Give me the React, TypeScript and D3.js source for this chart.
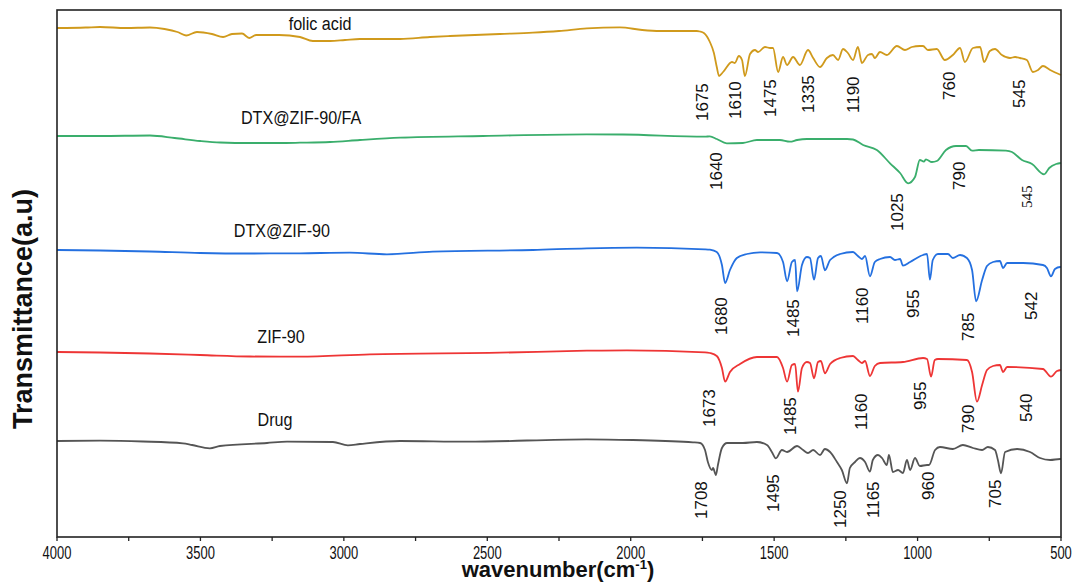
import React from "react";
import * as d3 from "d3";

type Pt = [number, number];

// wavenumber (cm-1), transmittance (a.u., stacked offsets)
const folicAcid: Pt[] = [[4000,509],[3900,509.5],[3850,510],[3760,509],[3676,509.5],[3625,508],[3580,505],[3550,501.5],[3512,505],[3460,503],[3421,500],[3390,503],[3355,503.5],[3330,499],[3306,502],[3226,502],[3153,500],[3108,496],[3048,496],[2996,497],[2944,498],[2804,498],[2700,500],[2630,501],[2456,503],[2341,504.3],[2250,506],[2153,508.7],[2038,509.7],[1960,507],[1898,506],[1770,506],[1759,505.5],[1745,504],[1724,495],[1710,484],[1700,470],[1692,461],[1678,465],[1647,475],[1637,474],[1623,481],[1612,477],[1602,461],[1584,483],[1567,487],[1556,485],[1532,490],[1514,489],[1504,489],[1486,465],[1469,480],[1455,472],[1434,480],[1410,472],[1382,487],[1364,479],[1340,470],[1316,479],[1295,482],[1277,477],[1260,488],[1243,484],[1225,477],[1208,490],[1194,474],[1173,482],[1159,483],[1149,479],[1131,485],[1107,482],[1072,491],[1044,487],[1020,490],[992,491],[981,491],[964,487],[933,488],[905,477],[877,482],[852,489],[835,475],[807,489],[782,490],[768,475],[748,486],[730,488],[706,482],[678,479],[660,480],[643,479],[619,477],[598,465],[580,467],[563,471],[538,467],[500,462]];

const dtxZifFa: Pt[] = [[4000,401],[3850,401],[3676,401.5],[3590,399],[3501,396],[3431,394.5],[3327,394],[3226,394],[3153,394.3],[3048,395],[2944,397],[2804,399.3],[2515,401],[2153,402.7],[2027,402.5],[1741,400.3],[1724,400.7],[1700,398],[1665,393.7],[1609,394],[1560,397],[1480,397],[1445,395.3],[1420,397],[1386,398],[1246,398],[1225,397.5],[1190,392],[1142,387],[1096,373.7],[1061,364],[1033,353.7],[1009,360],[992,377],[978,375.3],[971,377.7],[950,375],[933,376],[901,387],[866,391],[831,391],[810,386.3],[786,387],[692,386.3],[671,385],[636,377],[601,373],[559,362.7],[541,369],[517,373],[500,374]];

const dtxZif: Pt[] = [[4000,287],[3850,286.5],[3676,285.5],[3501,284],[3327,283.5],[3153,283.7],[2979,284.3],[2850,282.7],[2690,285.3],[2341,287],[2153,288.7],[1979,289.3],[1741,287.7],[1724,287.3],[1700,285],[1682,272],[1671,254],[1654,267],[1630,279],[1595,283],[1549,284.7],[1490,284],[1469,275],[1455,255.7],[1438,275],[1427,277],[1420,245.7],[1403,272],[1386,280],[1375,279],[1361,257.3],[1347,279],[1337,281],[1323,266.7],[1305,277],[1270,283],[1225,285],[1208,281],[1194,278],[1183,281],[1166,260.7],[1149,275],[1131,278],[1096,280],[1079,277],[1061,278],[1051,271.3],[1026,275],[981,282],[967,283],[957,257.3],[947,277],[929,283],[894,283],[877,279],[852,282],[828,279],[810,267],[796,235.7],[775,257],[758,271],[737,275],[713,276],[702,269],[688,274],[632,274],[563,272],[549,269],[535,260.7],[521,268],[503,270],[500,270]];

const zif90: Pt[] = [[4000,185],[3850,184.5],[3676,183.5],[3501,182],[3327,180.5],[3153,180.3],[2909,182.7],[2456,184.3],[2153,186.3],[2013,186.7],[1741,184.7],[1724,184],[1700,181],[1682,169],[1671,155.3],[1654,165],[1619,173],[1560,180],[1490,180],[1469,169],[1455,155.3],[1438,172],[1427,173],[1417,145.3],[1403,169],[1386,175],[1375,174],[1361,158.7],[1347,175],[1337,176],[1323,163.7],[1305,173],[1270,179],[1225,181],[1208,177],[1194,174],[1183,176],[1166,161],[1149,171],[1131,174],[1051,175],[981,179],[967,178],[953,160.3],[940,177],[929,178],[828,177],[810,165],[793,135.3],[775,152],[758,167],[737,171],[713,172],[702,165],[688,170],[563,168],[535,160.3],[514,166],[500,167]];

const drug: Pt[] = [[4000,96],[3850,96.3],[3700,95.5],[3561,93.7],[3529,92],[3467,88.7],[3432,91],[3268,94],[3198,95.3],[3038,95],[2986,91.7],[2944,93],[2804,96],[2571,95.3],[2153,97.7],[1992,97],[1783,94.7],[1758,94],[1741,87],[1731,75],[1717,67],[1713,69],[1703,62],[1696,72],[1682,89],[1664,94],[1609,94],[1560,95],[1525,92],[1508,85],[1494,78.7],[1473,87],[1455,85],[1420,91],[1399,87],[1382,84],[1364,87],[1340,82],[1323,88],[1305,85],[1281,75],[1264,67],[1246,53.7],[1236,69],[1218,75],[1201,79],[1183,75],[1166,65.3],[1156,77],[1138,82],[1124,79],[1107,72],[1100,82],[1086,65],[1068,67],[1051,64],[1037,77],[1026,67],[1009,79],[992,71],[967,72],[960,72],[939,87],[922,90],[877,88],[842,92],[807,89],[775,87],[755,90],[730,87],[720,77],[709,63.7],[695,85],[653,88],[608,85],[573,79],[538,77],[503,78],[500,78]];

const seriesNames = ["folic acid", "DTX@ZIF-90/FA", "DTX@ZIF-90", "ZIF-90", "Drug"];
const seriesData = [folicAcid, dtxZifFa, dtxZif, zif90, drug];
const seriesColors = ["#d09a1c", "#3aae6c", "#2470e0", "#ee3535", "#555555"];
// label anchor: [wavenumber, value]
const seriesLabelPos: Pt[] = [[3083, 507], [3149, 413], [3216, 300], [3219, 194], [3240, 111]];

// peak annotations: [text, wavenumber of label, value of label start]
const folicPeaks: [string, number, number][] = [["1675",1752,416],["1610",1638,418],["1475",1514,420],["1335",1382,424],["1190",1225,424],["760",890,437],["545",646,429]];
const faPeaks: [string, number, number][] = [["1640",1703,347],["1025",1072,306],["790",856,347]];
const faSerifPeaks: [string, number, number][] = [["545",619,329]];
const dtxZifPeaks: [string, number, number][] = [["1680",1685,202],["1485",1434,200],["1160",1194,213],["955",1016,219],["785",824,196],["542",605,217]];
const zifPeaks: [string, number, number][] = [["1673",1727,110],["1485",1445,102],["1160",1197,107],["955",992,127],["790",824,104],["540",622,115]];
const drugPeaks: [string, number, number][] = [["1708",1755,18],["1495",1504,25],["1250",1270,9],["1165",1155,19],["960",964,37],["705",730,29]];

const majorTicks = [4000, 3500, 3000, 2500, 2000, 1500, 1000, 500];
const minorTicks = [3750, 3250, 2750, 2250, 1750, 1250, 750];

const W = 1072, H = 585;
const M = { left: 57, right: 1061, top: 10, bottom: 537 };

export default function App() {
  const x = d3.scaleLinear().domain([4000, 500]).range([M.left, M.right]);
  const y = d3.scaleLinear().domain([0, 527]).range([M.bottom, M.top]);
  const line = d3.line<Pt>().x(d => x(d[0])).y(d => y(d[1])).curve(d3.curveMonotoneX);
  const font = "'Liberation Sans', Arial, sans-serif";
  const allPeaks = [...folicPeaks, ...faPeaks, ...dtxZifPeaks, ...zifPeaks, ...drugPeaks];

  return (
    <svg width={W} height={H} style={{ position: "absolute", left: 0, top: 0, background: "#fff" }} fontFamily={font}>
      <rect x={0} y={0} width={W} height={H} fill="#fff" />
      {seriesData.map((s, i) => (
        <path key={i} d={line(s) || ""} fill="none" stroke={seriesColors[i]} strokeWidth={1.8} strokeLinejoin="round" />
      ))}
      {/* frame */}
      <rect x={M.left} y={M.top} width={M.right - M.left} height={M.bottom - M.top} fill="none" stroke="#222" strokeWidth={1.6} />
      {majorTicks.concat(minorTicks).map(t => (
        <line key={t} x1={x(t)} x2={x(t)} y1={M.bottom} y2={M.bottom + 4} stroke="#222" strokeWidth={1.3} />
      ))}
      {majorTicks.map(t => (
        <g key={t} transform={`translate(${x(t)},559) scale(0.72,1)`}>
          <text textAnchor="middle" fontSize={18} fill="#111">{t}</text>
        </g>
      ))}
      {seriesNames.map((n, i) => (
        <g key={n} transform={`translate(${x(seriesLabelPos[i][0])},${y(seriesLabelPos[i][1])}) scale(0.85,1)`}>
          <text textAnchor="middle" fontSize={19} fill="#111">{n}</text>
        </g>
      ))}
      {allPeaks.map(([t, wn, v], i) => (
        <text key={i} transform={`translate(${x(wn) + 6},${y(v)}) rotate(-90)`} fontSize={17} fill="#111">{t}</text>
      ))}
      {faSerifPeaks.map(([t, wn, v], i) => (
        <text key={"s" + i} transform={`translate(${x(wn) + 5},${y(v)}) rotate(-90)`} fontSize={15} fill="#111" fontFamily="'Liberation Serif', 'Times New Roman', serif">{t}</text>
      ))}
      <text x={558} y={577} textAnchor="middle" fontSize={22} fontWeight="bold" fill="#111">
        wavenumber(cm<tspan dy={-8} fontSize={13}>-1</tspan><tspan dy={8}>)</tspan>
      </text>
      <text transform="translate(32,309) rotate(-90)" textAnchor="middle" fontSize={27} fontWeight="bold" fill="#111">Transmittance(a.u)</text>
    </svg>
  );
}
